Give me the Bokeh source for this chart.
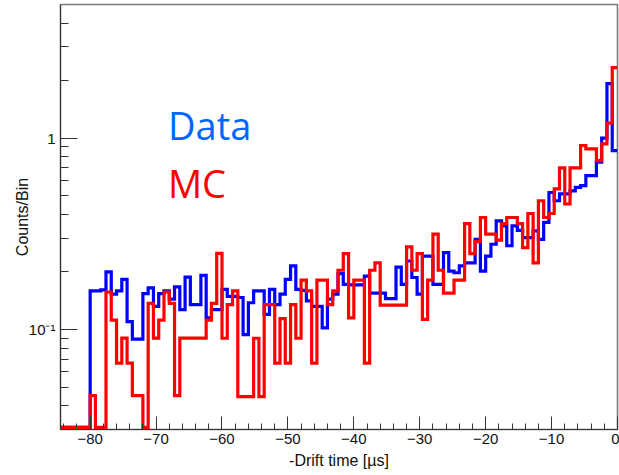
from bokeh.plotting import figure
from bokeh.models import Range1d, FixedTicker
from bokeh.core.properties import value
from bokeh.embed import file_html
from bokeh.resources import INLINE

# ---------------- data ----------------
bin_width = 0.8          # microseconds
first_edge = -80.0       # left edge of first bin

data_counts = [
    0.159, 0.159, 0.161, 0.200, 0.153, 0.159, 0.183, 0.110, 0.089, 0.089,
    0.154, 0.165, 0.132, 0.154, 0.159, 0.144, 0.167, 0.127, 0.188, 0.135,
    0.135, 0.192, 0.115, 0.127, 0.127, 0.162, 0.149, 0.149, 0.147, 0.094,
    0.138, 0.159, 0.159, 0.120, 0.162, 0.135, 0.153, 0.183, 0.215, 0.162,
    0.160, 0.141, 0.132, 0.132, 0.102, 0.144, 0.153, 0.196, 0.172, 0.171,
    0.171, 0.171, 0.190, 0.155, 0.155, 0.155, 0.145, 0.145, 0.212, 0.172,
    0.228, 0.187, 0.153, 0.242, 0.242, 0.172, 0.172, 0.252, 0.202, 0.198,
    0.215, 0.223, 0.223, 0.296, 0.202, 0.242, 0.279, 0.370, 0.348, 0.274,
    0.348, 0.330, 0.302, 0.302, 0.328, 0.296, 0.363, 0.520, 0.471, 0.511,
    0.511, 0.530, 0.553, 0.565, 0.637, 0.637, 0.749, 1.000, 1.930, 0.862,
]

mc_counts = [
    0.0451, 0.0, 0.0, 0.157, 0.112, 0.0667, 0.0902, 0.0667, 0.0451, 0.0451,
    0.0, 0.137, 0.0902, 0.112, 0.157, 0.137, 0.0451, 0.0902, 0.0902, 0.0902,
    0.0902, 0.0902, 0.112, 0.137, 0.250, 0.090, 0.135, 0.159, 0.0446, 0.0446,
    0.0446, 0.090, 0.0446, 0.135, 0.135, 0.0667, 0.114, 0.0667, 0.135, 0.090,
    0.181, 0.159, 0.0667, 0.181, 0.181, 0.135, 0.159, 0.204, 0.249, 0.115,
    0.181, 0.181, 0.0667, 0.204, 0.223, 0.134, 0.134, 0.134, 0.134, 0.134,
    0.270, 0.204, 0.249, 0.113, 0.181, 0.315, 0.204, 0.155, 0.155, 0.181,
    0.181, 0.358, 0.249, 0.288, 0.385, 0.315, 0.315, 0.293, 0.358, 0.385,
    0.385, 0.358, 0.268, 0.404, 0.223, 0.471, 0.385, 0.404, 0.543, 0.699,
    0.453, 0.699, 0.699, 0.916, 0.880, 0.880, 0.764, 0.935, 1.200, 2.340,
]

x_major_ticks = [-80, -70, -60, -50, -40, -30, -20, -10, 0]
x_minor_ticks = list(range(-84, 1, 2))
y_major_ticks = [0.1, 1]
y_minor_ticks = [0.03, 0.04, 0.05, 0.06, 0.07, 0.08, 0.09,
                 0.2, 0.3, 0.4, 0.5, 0.6, 0.7, 0.8, 0.9, 2, 3, 4]
y_tick_labels = {0.1: "10\u207b\u00b9", 1: "1"}

x_title = "-Drift time [\u00b5s]"
y_title = "Counts/Bin"
series_names = ["Data", "MC"]

x_lo, x_hi = -84.5, 0.0
y_lo, y_hi = 0.03, 5.0

# ---------------- helpers ----------------
def hist_path(counts, floor):
    xs, ys = [x_lo, first_edge], [floor, floor]
    for i, c in enumerate(counts):
        v = c if c > 0 else floor
        left = first_edge + i * bin_width
        right = left + bin_width
        xs += [left, right]
        ys += [v, v]
    return xs, ys

floor = y_lo * 1.025

p = figure(
    frame_width=557, frame_height=425,
    x_range=Range1d(x_lo, x_hi), y_range=Range1d(y_lo, y_hi),
    y_axis_type="log",
    output_backend="svg", toolbar_location=None,
    min_border_left=60, min_border_right=2, min_border_top=4, min_border_bottom=44,
    background_fill_color="white", border_fill_color="white",
)
p.grid.visible = False
p.outline_line_color = "#7a7a7a"
p.outline_line_width = 1.6

xs, ys = hist_path(data_counts, floor)
p.line(xs, ys, line_color="#0000ff", line_width=3.2, line_join="miter")
xs, ys = hist_path(mc_counts, floor)
p.line(xs, ys, line_color="#ff0000", line_width=3.2, line_join="miter")

p.text(x=[-68.2], y=[1.17], text=[series_names[0]], text_font=value("Open Sans"),
       text_font_size="38px", text_color="#0066ff", text_baseline="alphabetic")
p.text(x=[-68.2], y=[0.58], text=[series_names[1]], text_font=value("Open Sans"),
       text_font_size="38px", text_color="#ff0000", text_baseline="alphabetic")

# x axis
xa = p.xaxis[0]
xa.ticker = FixedTicker(ticks=x_major_ticks, minor_ticks=x_minor_ticks)
xa.major_tick_in = 13
xa.major_tick_out = 0
xa.minor_tick_in = 6
xa.minor_tick_out = 0
xa.axis_line_color = "#333333"
xa.major_tick_line_color = "#333333"
xa.minor_tick_line_color = "#333333"
xa.major_label_text_font = "Liberation Sans"
xa.major_label_text_font_size = "15px"
xa.major_label_text_color = "#111111"
xa.major_label_standoff = 4
xa.axis_label = x_title
xa.axis_label_text_font = "Liberation Sans"
xa.axis_label_text_font_size = "16px"
xa.axis_label_text_font_style = "normal"
xa.axis_label_text_color = "#111111"
xa.axis_label_standoff = 5

# y axis
ya = p.yaxis[0]
ya.ticker = FixedTicker(ticks=y_major_ticks, minor_ticks=y_minor_ticks)
ya.major_label_overrides = y_tick_labels
ya.major_tick_in = 17
ya.major_tick_out = 0
ya.minor_tick_in = 8
ya.minor_tick_out = 0
ya.axis_line_color = "#333333"
ya.major_tick_line_color = "#333333"
ya.minor_tick_line_color = "#333333"
ya.major_label_text_font = "Liberation Sans"
ya.major_label_text_font_size = "15px"
ya.major_label_text_color = "#111111"
ya.major_label_standoff = 5
ya.axis_label = y_title
ya.axis_label_text_font = "Liberation Sans"
ya.axis_label_text_font_size = "16px"
ya.axis_label_text_font_style = "normal"
ya.axis_label_text_color = "#111111"
ya.axis_label_standoff = -5

open("out.html", "w").write(file_html(p, INLINE))
